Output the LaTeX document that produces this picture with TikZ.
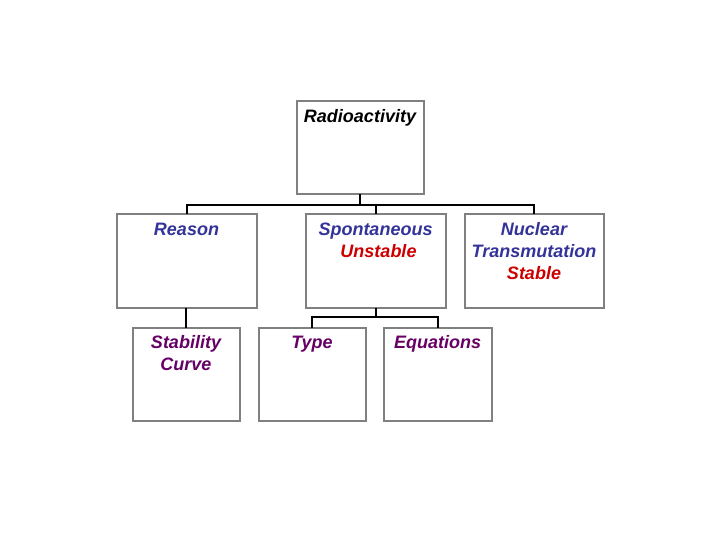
\documentclass[tikz,border=0pt]{standalone}
\usepackage{fontspec}
\setmainfont{Liberation Sans}
\definecolor{tblue}{HTML}{333399}
\definecolor{tred}{HTML}{CC0000}
\definecolor{tpurple}{HTML}{660066}
\definecolor{boxgray}{HTML}{808080}
\begin{document}
\begin{tikzpicture}[x=1pt,y=-1pt,
  box/.style={draw=boxgray, line width=2pt, fill=white, inner sep=0pt, outer sep=0pt, minimum height=93pt},
  lbl/.style={anchor=north, inner sep=0pt, align=center, font=\fontsize{18}{22}\selectfont\bfseries\itshape, yshift=-8pt},
  conn/.style={draw=black, line width=2pt}]
\useasboundingbox (0,0) rectangle (720,540);
% boxes
\node[box, minimum width=127pt] (top) at (360,148) {};
\node[box, minimum width=140pt] (reason) at (186.5,261) {};
\node[box, minimum width=140pt] (spont) at (375.5,261) {};
\node[box, minimum width=139pt] (nuclear) at (534,261) {};
\node[box, minimum width=107pt] (stab) at (186,374) {};
\node[box, minimum width=107pt] (type) at (312,374) {};
\node[box, minimum width=108pt] (equ) at (437.5,374) {};
% labels
\node[lbl, text=black] (ltop) at (top.north) {Radioactivity};
\node[lbl, text=tblue] (lreason) at (reason.north) {Reason};
\node[lbl] (lspont) at (spont.north) {\textcolor{tblue}{Spontaneous}\\\hspace*{6pt}\textcolor{tred}{Unstable}};
\node[lbl] (lnuc) at (nuclear.north) {\textcolor{tblue}{Nuclear}\\\textcolor{tblue}{Transmutation}\\\textcolor{tred}{Stable}};
\node[lbl, text=tpurple] (lstab) at (stab.north) {Stability\\Curve};
\node[lbl, text=tpurple] (ltype) at (type.north) {Type};
\node[lbl, text=tpurple] (lequ) at (equ.north) {Equations};
% connectors
\coordinate (bus1) at (360,205);
\coordinate (bus2) at (375.5,317);
\draw[conn] (top.south) -- (bus1);
\draw[conn] (reason.north) |- (bus1 -| nuclear.north) -- (nuclear.north);
\draw[conn] (bus1 -| spont.north) -- (spont.north);
\draw[conn] (stab.north |- reason.south) -- (stab.north);
\draw[conn] (spont.south) -- (bus2);
\draw[conn] (type.north) |- (bus2 -| equ.north) -- (equ.north);
\end{tikzpicture}
\end{document}
